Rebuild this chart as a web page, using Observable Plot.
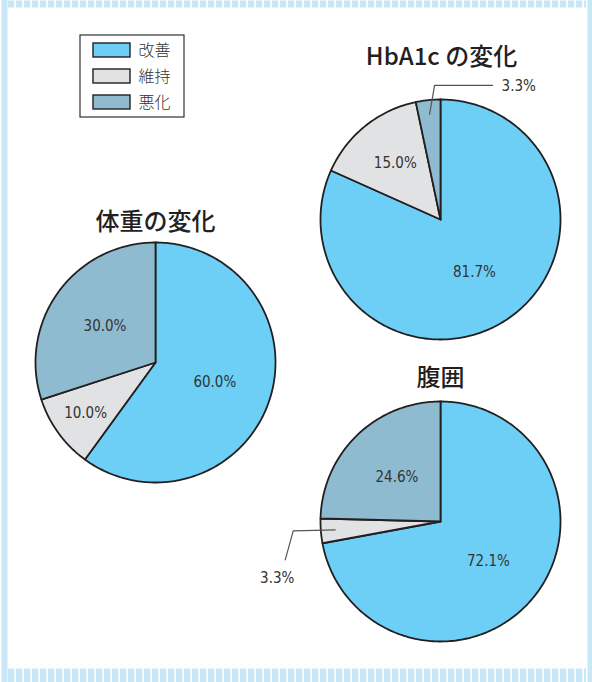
<!DOCTYPE html>
<html><head><meta charset="utf-8">
<script src="https://cdn.jsdelivr.net/npm/d3@7"></script>
<script src="https://cdn.jsdelivr.net/npm/@observablehq/plot@0.6"></script>
<style>
body{margin:0;background:#fff;}
#chart{width:592px;height:682px;}
#chart svg{display:block;}
.lbl text{font-stretch:condensed;}
</style></head><body><div id="chart"></div>
<script>
// ---- data ----
const titles = ["体重の変化", "HbA1c の変化", "腹囲"];
const categories = ["改善", "維持", "悪化"];
const improved   = [60.0, 81.7, 72.1];
const maintained = [10.0, 15.0, 3.3];
const worsened   = [30.0, 3.3, 24.6];
const colors = ["#6dcff6", "#e1e2e4", "#8fbbd0"];

// ---- layout (positions only) ----
const layout = [
  {cx: 155, cy: 362, r: 120, tx: 155, ty: 222, leader: null},
  {cx: 440, cy: 219, r: 120, tx: 441, ty: 57,
   leader: {path: [[0,0],[5,-29],[63,-29]], tx: 9, ty: 1, anchor: "start"}},
  {cx: 440, cy: 521, r: 120, tx: 440, ty: 378,
   leader: {path: [[0,0],[-42,1],[-50,30]], tx: -8, ty: 18, anchor: "middle"}}
];

const series = [improved, maintained, worsened];
const pies = titles.map((t, i) => ({title: t, values: categories.map((c, j) => ({cat: c, value: series[j][i]}))}));

const sliceRows = [], labelRows = [], leaderRows = [], titleRows = [];
pies.forEach((p, i) => {
  const L = layout[i];
  titleRows.push({x: L.tx, y: L.ty, text: p.title});
  const total = d3.sum(p.values, d => d.value);
  const pt = (a, rr) => [L.cx + rr * Math.sin(a), L.cy - rr * Math.cos(a)];
  let acc = 0;
  p.values.forEach((d, j) => {
    const a0 = acc / total * 2 * Math.PI; acc += d.value; const a1 = acc / total * 2 * Math.PI;
    const key = i + "-" + j;
    const n = Math.max(2, Math.ceil((a1 - a0) / (Math.PI / 180)));
    sliceRows.push({key, cat: d.cat, x: L.cx, y: L.cy});
    for (let k = 0; k <= n; k++) {
      const [x, y] = pt(a0 + (a1 - a0) * k / n, L.r);
      sliceRows.push({key, cat: d.cat, x, y});
    }
    sliceRows.push({key, cat: d.cat, x: L.cx, y: L.cy});
    const am = (a0 + a1) / 2;
    const text = d.value.toFixed(1) + "%";
    const share = d.value / total;
    if (share < 0.05 && L.leader) {
      const [sx, sy] = pt(am, L.r * 0.88);
      const ld = L.leader;
      ld.path.forEach(([dx, dy]) => leaderRows.push({key, x: sx + dx, y: sy + dy}));
      const [ex, ey] = ld.path[ld.path.length - 1];
      labelRows.push({x: sx + ex + ld.tx, y: sy + ey + ld.ty, text, anchor: ld.anchor});
    } else {
      const f = share < 0.12 ? 0.72 : share < 0.2 ? 0.6 : 0.52;
      const [x, y] = pt(am, L.r * f);
      labelRows.push({x, y, text, anchor: "middle"});
    }
  });
});

const legendRows = categories.map((c, j) => ({cat: c, y1: 43 + 26 * j, y2: 57 + 26 * j, ym: 50 + 26 * j}));

const BORDER = "#c8e8f8";
const labelFont = "'DejaVu Sans Condensed', 'Liberation Sans Narrow', 'Roboto', sans-serif";
const jpFont = "'Noto Sans CJK JP', sans-serif";

const chart = Plot.plot({
  width: 592, height: 682, margin: 0,
  x: {domain: [0, 592], range: [0, 592], axis: null},
  y: {domain: [0, 682], range: [0, 682], axis: null},
  color: {domain: categories, range: colors},
  style: {background: "#fff"},
  marks: [
    // decorative frame
    Plot.ruleY([3.5], {x1: 8, x2: 586, stroke: BORDER, strokeWidth: 7, strokeDasharray: "6.3,1.7"}),
    Plot.ruleY([675], {x1: 8, x2: 586, stroke: BORDER, strokeWidth: 14, strokeDasharray: "6.3,1.7"}),
    Plot.ruleX([4], {y1: 0, y2: 682, stroke: BORDER, strokeWidth: 6}),
    Plot.ruleX([589.5], {y1: 0, y2: 682, stroke: BORDER, strokeWidth: 5}),
    // legend
    Plot.rect([0], {x1: 80, x2: 184, y1: 35, y2: 117, fill: "#fff", stroke: "#333", strokeWidth: 1.2}),
    Plot.rect(legendRows, {x1: 93, x2: 130, y1: "y1", y2: "y2", fill: "cat", stroke: "#231f20", strokeWidth: 1.4}),
    Plot.text(legendRows, {x: 138, y: "ym", text: "cat", textAnchor: "start", fontSize: 16, fontWeight: 300, fill: "#333", fontFamily: jpFont}),
    // pies
    Plot.line(sliceRows, {x: "x", y: "y", z: "key", fill: "cat", stroke: "#231f20", strokeWidth: 1.8, strokeLinejoin: "round"}),
    // leaders
    Plot.line(leaderRows, {x: "x", y: "y", z: "key", stroke: "#555", strokeWidth: 1.2}),
    // labels
    Plot.text(labelRows.filter(d => d.anchor === "middle"), {x: "x", y: "y", text: "text", textAnchor: "middle", fontSize: 15, fontWeight: 300, fill: "#333", fontFamily: labelFont, className: "lbl"}),
    Plot.text(labelRows.filter(d => d.anchor === "start"), {x: "x", y: "y", text: "text", textAnchor: "start", fontSize: 15, fontWeight: 300, fill: "#333", fontFamily: labelFont, className: "lbl"}),
    // titles
    Plot.text(titleRows, {x: "x", y: "y", text: "text", fontSize: 24, fontWeight: 500, fill: "#231f20", fontFamily: jpFont})
  ]
});
document.getElementById("chart").append(chart);
</script></body></html>
